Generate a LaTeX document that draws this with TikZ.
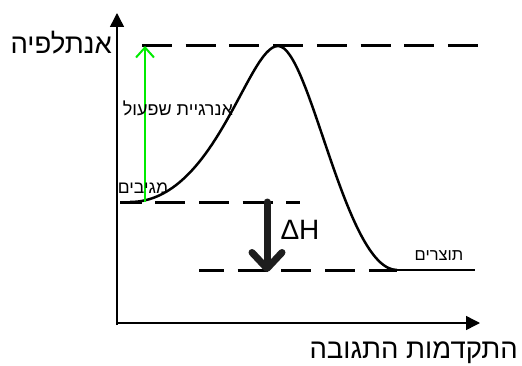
\documentclass[tikz,border=0pt]{standalone}
\usepackage{fontspec}
\setmainfont{Liberation Sans}
\newfontfamily\hebfont[Script=Hebrew]{Liberation Sans}
\TeXXeTstate=1
\usetikzlibrary{arrows.meta}
\definecolor{actgreen}{RGB}{0,235,0}
\definecolor{dhgray}{RGB}{30,30,30}
\tikzset{
  axisline/.style={line width=1.5pt, -{Triangle[length=14pt,width=14pt]}},
  levelline/.style={line width=3pt, dash pattern=on 30pt off 13.7pt},
  curveline/.style={line width=2.5pt},
  lbl/.style={inner sep=0pt, font=\hebfont},
}
\begin{document}
\begin{tikzpicture}[x=1pt,y=1pt]
\useasboundingbox (0,0) rectangle (522,365);
% coordinates
\coordinate (origin) at (117,42);
\coordinate (ytop) at (117,352);
\coordinate (xend) at (480,42);
\coordinate (tsL) at (142,319);
\coordinate (tsR) at (478,319);
\coordinate (rL) at (120,163);
\coordinate (rR) at (300,163);
\coordinate (pL) at (199,95);
\coordinate (pM) at (397,95);
\coordinate (pR) at (475,95);
\coordinate (cStart) at (130,163);
\coordinate (peak) at (278,319);
\coordinate (gB) at (145,163);
\coordinate (gT) at (145,319);
\coordinate (dhT) at (267,163);
\coordinate (dhB) at (267,93);
% axes
\draw[axisline] ([yshift=-2pt]origin) -- (ytop);
\draw[axisline] ([xshift=-0.75pt]origin) -- (xend);
% levels
\draw[levelline] (tsL) -- (tsR);
\draw[levelline, dash phase=8.4pt] (rL) -- (rR);
\draw[levelline, dash phase=5pt] (pL) -- (pM);
\draw[line width=2.5pt] (370,95) -- (pR);
% reaction curve
\draw[curveline] (cStart) .. controls (215,163) and (248,319) .. (peak)
  .. controls (310,319) and (345,95) .. (pM);
% activation energy arrow
\draw[actgreen, line width=2pt, -{Straight Barb[length=10pt,width=18pt]}] (gB) -- (gT);
% delta H arrow
\draw[dhgray, line width=7pt, line cap=round,
  -{Straight Barb[length=16pt,width=30pt,line cap=round,line join=round]}] (dhT) -- (dhB);
% labels
\node[lbl, anchor=east, font=\hebfont\fontsize{27.5}{30}\selectfont] (enth) at (112,322) {\beginR אנתלפיה\endR};
\node[lbl, anchor=east, font=\hebfont\fontsize{27.5}{30}\selectfont] (prog) at (518,12) {\beginR התקדמות התגובה\endR};
\node[lbl, anchor=east, font=\hebfont\fontsize{18}{20}\selectfont] (act) at (233,257) {\beginR אנרגיית שפעול\endR};
\node[lbl, font=\hebfont\fontsize{17.5}{19}\selectfont] (react) at (143,177) {\beginR מגיבים\endR};
\node[lbl, font=\hebfont\fontsize{16.5}{18}\selectfont] (prod) at (439,109) {\beginR תוצרים\endR};
\node[lbl, font=\fontsize{28}{30}\selectfont] (dh) at (300,135) {ΔH};
\end{tikzpicture}
\end{document}
